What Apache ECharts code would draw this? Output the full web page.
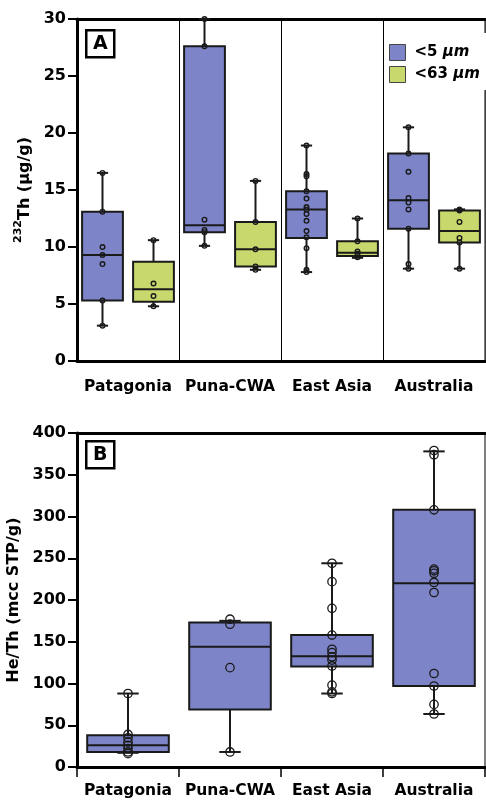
<!DOCTYPE html>
<html><head><meta charset="utf-8">
<script src="https://cdn.jsdelivr.net/npm/echarts@6/dist/echarts.min.js"></script>
<style>html,body{margin:0;padding:0;background:#fff}#c{width:486px;height:801px}</style>
</head><body><div id="c"></div>
<script>
// ---------- data ----------
const categories = ['Patagonia', 'Puna-CWA', 'East Asia', 'Australia'];
const seriesNames = ['<5 μm', '<63 μm'];
// Panel A: 232Th (µg/g); box stats = [whisker low, Q1, median, Q3, whisker high]
const thBox5 = [[3.1, 5.3, 9.3, 13.1, 16.5], [10.1, 11.3, 11.9, 27.6, 30.0], [7.8, 10.8, 13.3, 14.9, 18.9], [8.1, 11.6, 14.1, 18.2, 20.5]];
const thBox63 = [[4.8, 5.2, 6.3, 8.7, 10.6], [8.0, 8.3, 9.8, 12.2, 15.8], [9.05, 9.2, 9.5, 10.5, 12.5], [8.1, 10.4, 11.4, 13.2, 13.3]];
const thPts5 = [
  [16.5, 13.1, 10.0, 9.3, 8.5, 5.3, 3.1],
  [30.0, 27.6, 12.4, 11.5, 11.3, 10.1],
  [18.9, 16.4, 16.2, 14.9, 14.25, 13.5, 13.3, 12.9, 12.3, 11.4, 10.85, 9.9, 8.0, 7.8],
  [20.5, 18.2, 16.6, 14.3, 13.9, 13.3, 11.6, 8.5, 8.1]
];
const thPts63 = [
  [10.6, 6.8, 5.7, 4.8],
  [15.8, 12.2, 9.8, 8.3, 8.0],
  [12.5, 10.5, 9.6, 9.4, 9.1],
  [13.3, 13.2, 12.2, 10.8, 10.4, 8.1]
];
const thTicks = { min: 0, max: 30, interval: 5 };
// Panel B: He/Th (mcc STP/g)
const heBox = [[17, 18, 26, 38, 88], [18, 69, 144, 173, 175], [88, 120.5, 132.5, 158, 244], [63.5, 97, 220, 308, 378]];
const hePts = [
  [88, 39, 35, 30, 26, 22, 18, 16],
  [177, 171, 119, 18],
  [244, 222, 190, 158, 141, 137, 132, 128, 121, 98, 90, 88],
  [379, 374, 308, 237, 235, 232, 221, 209, 112, 97, 75, 63.5]
];
const heTicks = { min: 0, max: 400, interval: 50 };

// ---------- styles ----------
const BLUE = '#7d84c8', GREEN = '#c9d86c', INK = '#1a1a1a';
const FONT = 'DejaVu Sans';

function boxRenderer(offFrac, widFrac, capFrac, lw) {
  return function (params, api) {
    const c = api.value(0);
    const band = api.size([1, 0])[0];
    const cx = api.coord([c, 0])[0] + offFrac * band;
    const w = widFrac * band, cap = capFrac * band;
    const y = k => api.coord([c, api.value(k)])[1];
    const yMin = y(1), yQ1 = y(2), yMed = y(3), yQ3 = y(4), yMax = y(5);
    const ls = { stroke: INK, lineWidth: lw };
    return {
      type: 'group', children: [
        { type: 'line', shape: { x1: cx, y1: yMax, x2: cx, y2: yQ3 }, style: ls },
        { type: 'line', shape: { x1: cx, y1: yQ1, x2: cx, y2: yMin }, style: ls },
        { type: 'line', shape: { x1: cx - cap / 2, y1: yMax, x2: cx + cap / 2, y2: yMax }, style: ls },
        { type: 'line', shape: { x1: cx - cap / 2, y1: yMin, x2: cx + cap / 2, y2: yMin }, style: ls },
        { type: 'rect', shape: { x: cx - w / 2, y: yQ3, width: w, height: yQ1 - yQ3 }, style: { fill: api.visual('color'), stroke: INK, lineWidth: lw } },
        { type: 'line', shape: { x1: cx - w / 2, y1: yMed, x2: cx + w / 2, y2: yMed }, style: ls }
      ]
    };
  };
}
function ptRenderer(offFrac, r, lw) {
  return function (params, api) {
    const c = api.value(0);
    const band = api.size([1, 0])[0];
    const p = api.coord([c, api.value(1)]);
    return { type: 'circle', shape: { cx: p[0] + offFrac * band, cy: p[1], r: r }, style: { fill: 'none', stroke: INK, lineWidth: lw } };
  };
}
const boxData = arr => arr.map((b, i) => [i].concat(b));
const ptData = arr => arr.flatMap((vals, i) => vals.map(v => [i, v]));

const yAxisBase = (gi, t, name, gap) => ({
  type: 'value', gridIndex: gi, min: t.min, max: t.max, interval: t.interval,
  axisLine: { show: true, lineStyle: { color: '#000', width: 3 } },
  axisTick: { show: true, length: 9, lineStyle: { color: '#000', width: 2 } },
  axisLabel: { color: '#000', fontFamily: FONT, fontWeight: 'bold', fontSize: 16, margin: 11 },
  splitLine: { show: false },
  name: name, nameLocation: 'middle', nameGap: gap, nameRotate: 90
});
const borderX = gi => ({ type: 'category', gridIndex: gi, position: 'top', data: categories,
  axisLine: { show: true, onZero: false, lineStyle: { color: '#000', width: 3 } }, axisTick: { show: false }, axisLabel: { show: false }, splitLine: { show: false } });
const borderY = (gi, t) => ({ type: 'value', gridIndex: gi, position: 'right', min: t.min, max: t.max,
  axisLine: { show: true, onZero: false, lineStyle: { color: '#555', width: 1.5 } }, axisTick: { show: false }, axisLabel: { show: false }, splitLine: { show: false } });

const chart = echarts.init(document.getElementById('c'), null, { renderer: 'canvas' });
chart.setOption({
  animation: false,
  backgroundColor: '#fff',
  grid: [
    { left: 77, right: 1, top: 19, height: 342, outerBoundsMode: 'none', containLabel: false },
    { left: 77, right: 1, top: 433, height: 334, outerBoundsMode: 'none', containLabel: false }
  ],
  xAxis: [
    { type: 'category', gridIndex: 0, data: categories,
      axisLine: { show: true, onZero: false, lineStyle: { color: '#000', width: 3 } },
      axisTick: { show: false },
      axisLabel: { interval: 0, color: '#000', fontFamily: FONT, fontWeight: 'bold', fontSize: 15.5, margin: 18 },
      splitLine: { show: true, interval: 0, lineStyle: { color: '#000', width: 1 } } },
    { type: 'category', gridIndex: 1, data: categories,
      axisLine: { show: true, onZero: false, lineStyle: { color: '#000', width: 3 } },
      axisTick: { show: true, interval: 0, length: 10, lineStyle: { color: '#000', width: 1.5 } },
      axisLabel: { interval: 0, color: '#000', fontFamily: FONT, fontWeight: 'bold', fontSize: 15.5, margin: 16 },
      splitLine: { show: false } },
    borderX(0), borderX(1)
  ],
  yAxis: [
    Object.assign(yAxisBase(0, thTicks, '{s|232}{m|Th (μg/g)}', 39), {
      nameTextStyle: { color: '#000', rich: {
        s: { fontFamily: FONT, fontWeight: 'bold', fontSize: 11, verticalAlign: 'top', lineHeight: 20, color: '#000' },
        m: { fontFamily: FONT, fontWeight: 'bold', fontSize: 16, verticalAlign: 'bottom', lineHeight: 20, color: '#000' } } } }),
    Object.assign(yAxisBase(1, heTicks, 'He/Th (mcc STP/g)', 47), {
      nameTextStyle: { color: '#000', fontFamily: FONT, fontWeight: 'bold', fontSize: 16 } }),
    borderY(0, thTicks), borderY(1, heTicks)
  ],
  legend: {
    orient: 'vertical', left: 384, top: 33, itemGap: 5, itemWidth: 16, itemHeight: 16,
    padding: [11, 14, 7, 5], backgroundColor: '#fff',
    data: [
      { name: seriesNames[0], icon: 'rect', itemStyle: { color: BLUE, borderColor: '#444', borderWidth: 1 } },
      { name: seriesNames[1], icon: 'rect', itemStyle: { color: GREEN, borderColor: '#444', borderWidth: 1 } }
    ],
    formatter: n => n === seriesNames[0] ? '{b|<5 }{i|μm}' : '{b|<63 }{i|μm}',
    textStyle: { padding: [0, 0, 0, 4], rich: {
      b: { fontFamily: FONT, fontWeight: 'bold', fontSize: 15, color: '#000' },
      i: { fontFamily: FONT, fontWeight: 'bold', fontStyle: 'italic', fontSize: 15, color: '#000' } } }
  },
  graphic: [
    { type: 'group', left: 85, top: 29, children: [
      { type: 'rect', shape: { x: 0, y: 0, width: 28, height: 27 }, style: { fill: '#fff', stroke: '#000', lineWidth: 2.5 } },
      { type: 'text', x: 14, y: 14, style: { text: 'A', fontFamily: FONT, fontWeight: 'bold', fontSize: 19, fill: '#000', align: 'center', verticalAlign: 'middle' } } ] },
    { type: 'group', left: 85, top: 440, children: [
      { type: 'rect', shape: { x: 0, y: 0, width: 28, height: 27 }, style: { fill: '#fff', stroke: '#000', lineWidth: 2.5 } },
      { type: 'text', x: 14, y: 14, style: { text: 'B', fontFamily: FONT, fontWeight: 'bold', fontSize: 19, fill: '#000', align: 'center', verticalAlign: 'middle' } } ] }
  ],
  series: [
    { name: seriesNames[0], type: 'custom', xAxisIndex: 0, yAxisIndex: 0, z: 2, itemStyle: { color: BLUE },
      renderItem: boxRenderer(-0.25, 0.40, 0.11, 2), encode: { x: 0, y: [1, 2, 3, 4, 5] }, data: boxData(thBox5) },
    { name: seriesNames[1], type: 'custom', xAxisIndex: 0, yAxisIndex: 0, z: 2, itemStyle: { color: GREEN },
      renderItem: boxRenderer(0.25, 0.40, 0.11, 2), encode: { x: 0, y: [1, 2, 3, 4, 5] }, data: boxData(thBox63) },
    { name: 'pts5', type: 'custom', xAxisIndex: 0, yAxisIndex: 0, z: 3,
      renderItem: ptRenderer(-0.25, 2.3, 1.4), encode: { x: 0, y: 1 }, data: ptData(thPts5) },
    { name: 'pts63', type: 'custom', xAxisIndex: 0, yAxisIndex: 0, z: 3,
      renderItem: ptRenderer(0.25, 2.3, 1.4), encode: { x: 0, y: 1 }, data: ptData(thPts63) },
    { name: 'He/Th', type: 'custom', xAxisIndex: 1, yAxisIndex: 1, z: 2, itemStyle: { color: BLUE },
      renderItem: boxRenderer(0, 0.80, 0.21, 2), encode: { x: 0, y: [1, 2, 3, 4, 5] }, data: boxData(heBox) },
    { name: 'He/Th pts', type: 'custom', xAxisIndex: 1, yAxisIndex: 1, z: 3,
      renderItem: ptRenderer(0, 4.2, 1.3), encode: { x: 0, y: 1 }, data: ptData(hePts) }
  ]
});
</script>
</body></html>
